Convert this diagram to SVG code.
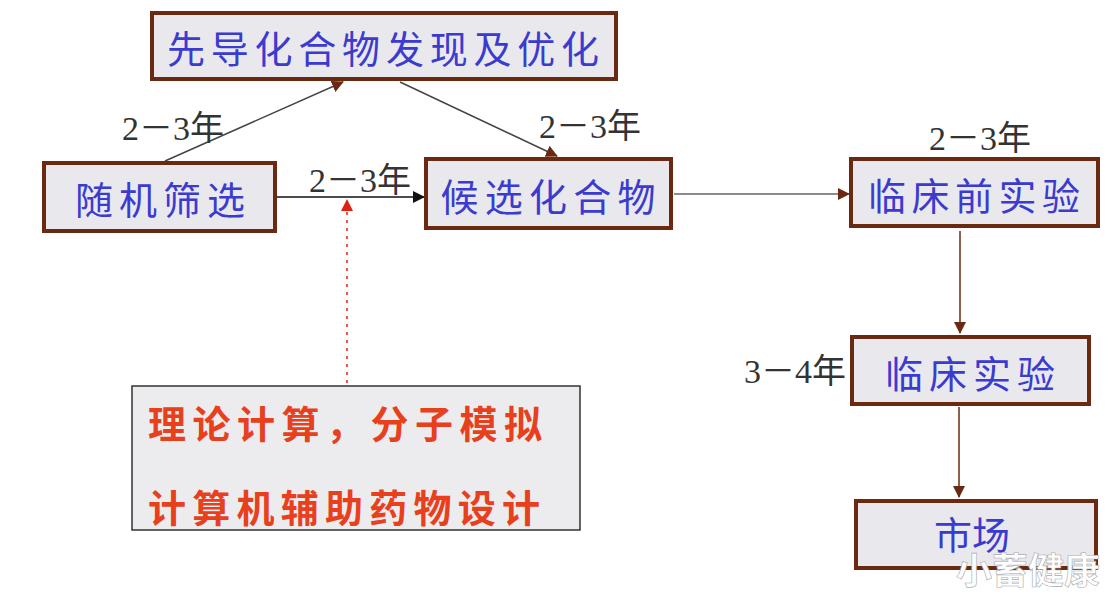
<svg xmlns="http://www.w3.org/2000/svg" width="1118" height="600" viewBox="0 0 1118 600">
<style>
.box{fill:#e9e9ed;stroke:#6a2a12;stroke-width:4}
.bt{font-family:"Noto Sans CJK SC","Noto Sans",sans-serif;font-size:38px;fill:#3b3bd0;dominant-baseline:central;text-anchor:middle}
.lab{font-family:"Liberation Serif","Noto Sans CJK SC",serif;font-size:34px;fill:#333;dominant-baseline:central;text-anchor:middle}
.red{font-family:"Noto Sans CJK SC",sans-serif;font-size:38px;font-weight:bold;fill:#e8401c;dominant-baseline:central}
.c{fill:none;stroke-width:1.5}
</style>
<defs>
<marker id="ab" markerWidth="12" markerHeight="12" refX="11" refY="6" orient="auto" markerUnits="userSpaceOnUse"><path d="M0,0 L12,6 L0,12 z" fill="#6a2a12"/></marker>
<marker id="ak" markerWidth="12" markerHeight="12" refX="11" refY="6" orient="auto" markerUnits="userSpaceOnUse"><path d="M0,0 L12,6 L0,12 z" fill="#111"/></marker>
<marker id="ar" markerWidth="12" markerHeight="12" refX="11" refY="6" orient="auto" markerUnits="userSpaceOnUse"><path d="M0,0 L12,6 L0,12 z" fill="#e02010"/></marker>
</defs>
<rect width="1118" height="600" fill="#ffffff"/>
<g id="connectors">
<line class="c" x1="165" y1="161" x2="343" y2="82" stroke="#444" marker-end="url(#ab)"/>
<line class="c" x1="400" y1="82" x2="557" y2="156" stroke="#444" marker-end="url(#ab)"/>
<line class="c" x1="277" y1="197" x2="424" y2="197" stroke="#111" stroke-width="2" marker-end="url(#ak)"/>
<line class="c" x1="674" y1="194" x2="849" y2="194" stroke="#666" marker-end="url(#ab)"/>
<line class="c" x1="960" y1="231" x2="960" y2="333" stroke="#6a2a12" stroke-width="2" marker-end="url(#ab)"/>
<line class="c" x1="959" y1="407" x2="959" y2="497" stroke="#6a2a12" stroke-width="2" marker-end="url(#ab)"/>
<line class="c" x1="347" y1="383" x2="347" y2="200" stroke="#e02010" stroke-width="3" stroke-dasharray="3,5" marker-end="url(#ar)"/>
</g>
<g id="labels">
<text class="lab" x="173" y="128">2－3年</text>
<text class="lab" x="590" y="126">2－3年</text>
<text class="lab" x="360" y="180">2－3年</text>
<text class="lab" x="980" y="138">2－3年</text>
<text class="lab" x="795" y="371">3－4年</text>
</g>
<g id="n-lead"><rect class="box" x="152" y="13" width="464" height="66"/><text class="bt" x="383" y="46" textLength="432" lengthAdjust="spacing">先导化合物发现及优化</text></g>
<g id="n-random"><rect class="box" x="44" y="163" width="231" height="68"/><text class="bt" x="160" y="197" textLength="170" lengthAdjust="spacing">随机筛选</text></g>
<g id="n-candidate"><rect class="box" x="426" y="159" width="245" height="69"/><text class="bt" x="548" y="194" textLength="215" lengthAdjust="spacing">候选化合物</text></g>
<g id="n-preclinical"><rect class="box" x="851" y="159" width="247" height="67"/><text class="bt" x="974" y="193" textLength="212" lengthAdjust="spacing">临床前实验</text></g>
<g id="n-clinical"><rect class="box" x="852" y="337" width="237" height="67"/><text class="bt" x="970" y="371" textLength="170" lengthAdjust="spacing">临床实验</text></g>
<g id="n-market"><rect class="box" x="856" y="501" width="240" height="67"/><text class="bt" x="972" y="532" textLength="76" lengthAdjust="spacing">市场</text></g>
<g id="n-cadd"><rect x="132" y="386" width="448" height="144" fill="#ececef" stroke="#333" stroke-width="1.5"/>
<text class="red" x="148" y="421" textLength="394" lengthAdjust="spacing">理论计算，分子模拟</text>
<text class="red" x="148" y="505" textLength="392" lengthAdjust="spacing">计算机辅助药物设计</text></g>
<text x="1028" y="568" font-family="Noto Sans CJK SC,sans-serif" font-size="36" font-weight="bold" fill="#ffffff" stroke="#aaa" stroke-width="0.6" text-anchor="middle" dominant-baseline="central">小蓄健康</text>
</svg>
